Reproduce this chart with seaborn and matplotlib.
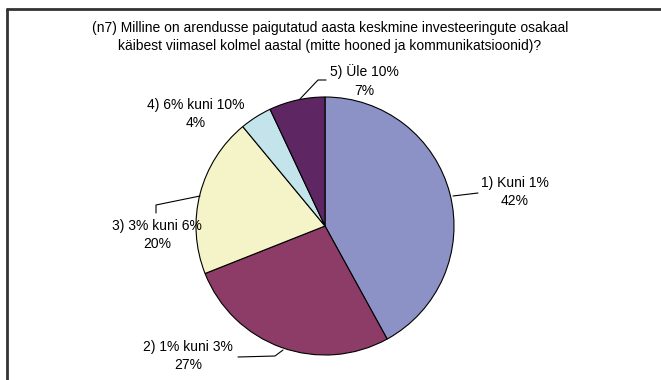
import matplotlib
matplotlib.use("Agg")
import matplotlib.pyplot as plt
import matplotlib.lines as mlines
import seaborn as sns

title = ("(n7) Milline on arendusse paigutatud aasta keskmine investeeringute osakaal\n"
         "käibest viimasel kolmel aastal (mitte hooned ja kommunikatsioonid)?")
categories = ["1) Kuni 1%", "2) 1% kuni 3%", "3) 3% kuni 6%", "4) 6% kuni 10%", "5) Üle 10%"]
shares = [42, 27, 20, 4, 7]
colors = ["#8C91C6", "#8C3C66", "#F5F4C8", "#C3E4EA", "#5E2763"]

# label positions (pixels from top-left) and leader lines
label_pos = [(515, 192), (188, 356), (157, 235), (196, 114), (364, 81)]
leaders = [
    [(453, 196), (478, 193)],
    [(283, 350), (275, 356), (238, 357)],
    [(200, 196), (156, 205), (156, 213)],
    None,
    [(300, 99), (318, 80), (326, 80)],
]

sns.set_theme(style="white")
plt.rcParams["font.family"] = ["Liberation Sans", "DejaVu Sans"]
plt.rcParams["text.color"] = "black"

W, H = 661, 380
fig = plt.figure(figsize=(W / 100, H / 100), dpi=100)
ax = fig.add_axes([0, 0, 1, 1])
ax.axis("off")

cx, cy, r = 325, 226, 129
ax.pie(shares, colors=colors, startangle=90, counterclock=False,
       center=(cx, H - cy), radius=r,
       wedgeprops=dict(edgecolor="black", linewidth=0.8))
ax.set_xlim(0, W)
ax.set_ylim(0, H)
ax.set_aspect("auto")

for cat, val, (lx, ly), ld in zip(categories, shares, label_pos, leaders):
    ax.text(lx, H - ly, f"{cat}\n{val}%", ha="center", va="center",
            fontsize=10, linespacing=1.4, color="black")
    if ld:
        xs = [p[0] for p in ld]
        ys = [H - p[1] for p in ld]
        ax.plot(xs, ys, color="black", lw=0.8)

fig.text(330 / W, 1 - 37 / H, title, ha="center", va="center",
         fontsize=10, linespacing=1.4, color="black")

# frame: only left and top edges are visible in the crop
x0, y0 = 6.5 / W, 1 - 8.5 / H
fig.add_artist(mlines.Line2D([x0, x0], [-0.05, y0], transform=fig.transFigure,
                             color="#333333", lw=2))
fig.add_artist(mlines.Line2D([x0, 1.05], [y0, y0], transform=fig.transFigure,
                             color="#333333", lw=2))

fig.savefig("out.png", dpi=100)
